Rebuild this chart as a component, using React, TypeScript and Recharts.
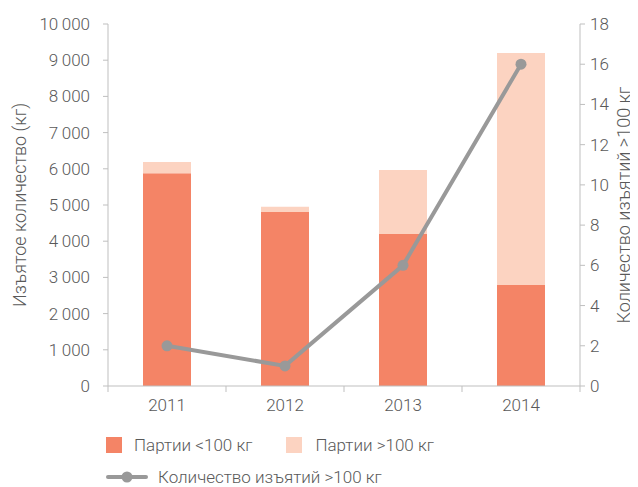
import { Bar, ComposedChart, Line, XAxis, YAxis } from "recharts";

const years = ["2011", "2012", "2013", "2014"];
const smallLots = [5880, 4810, 4200, 2790];
const largeLots = [310, 140, 1770, 6410];
const seizures = [2, 1, 6, 16];

const leftTicks = [0, 1000, 2000, 3000, 4000, 5000, 6000, 7000, 8000, 9000, 10000];
const rightTicks = [0, 2, 4, 6, 8, 10, 12, 14, 16, 18];

const data = years.map((y, i) => ({
  year: y,
  small: smallLots[i],
  large: largeLots[i],
  count: seizures[i],
}));

const FONT = "Roboto, 'Liberation Sans', sans-serif";
const TEXT = "#595959";
const AXIS = "#bfbfbf";
const DARK = "#f48466";
const LIGHT = "#fcd3c1";
const GREY = "#999999";

const fmt = (v: number) => (v >= 1000 ? `${Math.floor(v / 1000)}\u2009${String(v % 1000).padStart(3, "0")}` : `${v}`);

const tickStyle = { fill: TEXT, fontSize: 17, fontFamily: FONT, fontWeight: 300 };
const labelStyle = { textAnchor: "middle" as const, fill: TEXT, fontSize: 18, fontFamily: FONT, fontWeight: 300 };

function YearTick(props: any) {
  const { x, y, payload, index } = props;
  const half = payload?.offset ?? 59;
  return (
    <g>
      <line x1={x - half} x2={x - half} y1={y - 8} y2={y - 2} stroke={AXIS} />
      {index === years.length - 1 && <line x1={x + half} x2={x + half} y1={y - 8} y2={y - 2} stroke={AXIS} />}
      <text x={x} y={y + 17} textAnchor="middle" {...tickStyle}>
        {payload.value}
      </text>
    </g>
  );
}

export default function App() {
  return (
    <div style={{ position: "relative", width: 630, height: 479, fontFamily: FONT, color: TEXT }}>
      <ComposedChart width={630} height={479} data={data} margin={{ top: 16, right: 8, bottom: 71, left: 40 }}>
        <XAxis dataKey="year" height={30} stroke={AXIS} tickLine={false} tick={<YearTick />} interval={0} />
        <YAxis
          yAxisId="left"
          width={60}
          domain={[0, 10000]}
          ticks={leftTicks}
          interval={0}
          tickFormatter={fmt}
          stroke={AXIS}
          tickSize={5}
          tickMargin={13}
          tick={tickStyle}
          label={{
            value: "Изъятое количество (кг)",
            angle: -90,
            position: "insideLeft",
            offset: -28,
            style: labelStyle,
          }}
        />
        <YAxis
          yAxisId="right"
          orientation="right"
          width={50}
          domain={[0, 18]}
          ticks={rightTicks}
          interval={0}
          stroke={AXIS}
          tickSize={5}
          tickMargin={5}
          tick={tickStyle}
          label={{
            value: "Количество изъятий >100 кг",
            angle: -90,
            position: "insideRight",
            offset: 6,
            style: labelStyle,
          }}
        />
        <Bar yAxisId="left" dataKey="small" stackId="a" fill={DARK} barSize={48} isAnimationActive={false} />
        <Bar yAxisId="left" dataKey="large" stackId="a" fill={LIGHT} barSize={48} isAnimationActive={false} />
        <Line
          yAxisId="right"
          dataKey="count"
          stroke={GREY}
          strokeWidth={4}
          dot={{ r: 5.5, fill: GREY, stroke: GREY, strokeWidth: 0 }}
          isAnimationActive={false}
        />
      </ComposedChart>
      <div style={{ position: "absolute", left: 98, top: 426, fontSize: 17, fontWeight: 300, display: "flex", alignItems: "center", whiteSpace: "nowrap", lineHeight: "22px" }}>
        <span style={{ width: 16, height: 16, background: DARK, display: "inline-block" }} />
        <span style={{ marginLeft: 12 }}>Партии &lt;100 кг</span>
        <span style={{ width: 16, height: 16, background: LIGHT, display: "inline-block", marginLeft: 34 }} />
        <span style={{ marginLeft: 13 }}>Партии &gt;100 кг</span>
      </div>
      <div style={{ position: "absolute", left: 98, top: 458, fontSize: 17, fontWeight: 300, display: "flex", alignItems: "center", whiteSpace: "nowrap", lineHeight: "22px" }}>
        <svg width={42} height={22}>
          <line x1={2} x2={40} y1={11} y2={11} stroke={GREY} strokeWidth={4} strokeLinecap="round" />
          <circle cx={21} cy={11} r={5.5} fill={GREY} />
        </svg>
        <span style={{ marginLeft: 10 }}>Количество изъятий &gt;100 кг</span>
      </div>
    </div>
  );
}
